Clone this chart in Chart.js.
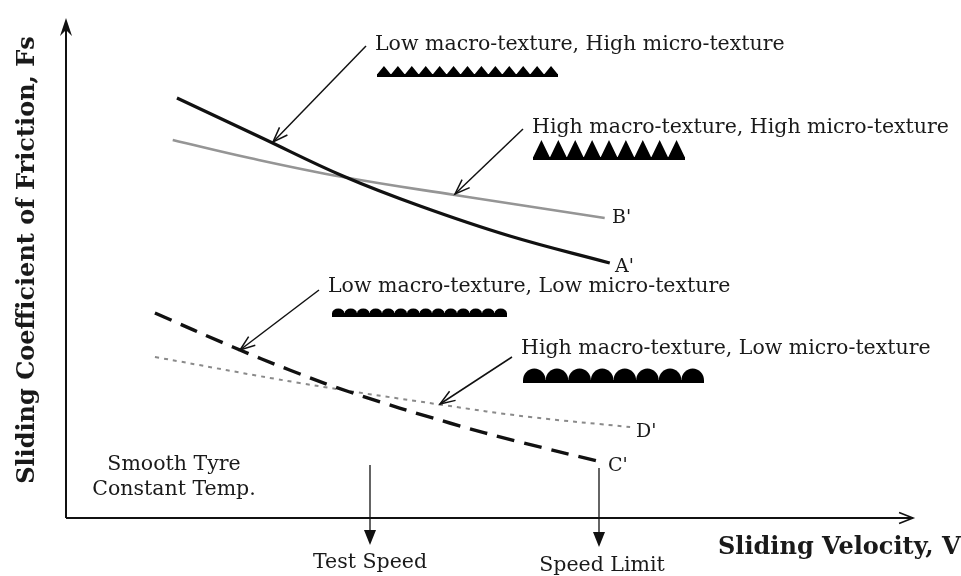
<!DOCTYPE html>
<html>
<head>
<meta charset="utf-8">
<script src="https://cdn.jsdelivr.net/npm/chart.js@4.4.1/dist/chart.umd.min.js"></script>
<style>
  html,body{margin:0;padding:0;background:#fff;}
  #wrap{width:961px;height:576px;}
</style>
</head>
<body>
<div id="wrap"><canvas id="c" width="961" height="576"></canvas></div>
<script>
// Sliding velocity (relative units 0-100) and sliding friction (relative units 0-100)
const aX = [13.1, 22.9, 32.7, 41.8, 52.4, 64.2];
const aY = [84.0, 76.2, 68.4, 62.4, 56.4, 51.0];
const bX = [12.6, 21.7, 32.7, 45.9, 63.6];
const bY = [75.6, 72.0, 68.2, 64.6, 60.0];
const cX = [10.5, 19.7, 26.4, 33.5, 45.3, 53.6, 62.7];
const cY = [41.0, 34.2, 29.6, 25.2, 19.0, 15.2, 11.4];
const dX = [10.5, 27.6, 44.5, 54.8, 66.6];
const dY = [32.2, 27.0, 22.6, 20.2, 18.2];
const curveLabels = ["A'", "B'", "C'", "D'"];
const textureLabels = [
  "Low macro-texture, High micro-texture",
  "High macro-texture, High micro-texture",
  "Low macro-texture, Low micro-texture",
  "High macro-texture, Low micro-texture"
];
const speedLabels = ["Test Speed", "Speed Limit"];
const noteLines = ["Smooth Tyre", "Constant Temp."];
const xTitle = "Sliding Velocity, V";
const yTitle = "Sliding Coefficient of Friction, Fs";

const pts = (xs, ys) => xs.map((x, i) => ({x, y: ys[i]}));
const SERIF = '"DejaVu Serif", "Liberation Serif", serif';

function arrowOpen(ctx, x1, y1, x2, y2, len, ang) {
  ctx.beginPath(); ctx.moveTo(x1, y1); ctx.lineTo(x2, y2); ctx.stroke();
  const a = Math.atan2(y2 - y1, x2 - x1);
  ctx.beginPath();
  ctx.moveTo(x2 - len * Math.cos(a - ang), y2 - len * Math.sin(a - ang));
  ctx.lineTo(x2, y2);
  ctx.lineTo(x2 - len * Math.cos(a + ang), y2 - len * Math.sin(a + ang));
  ctx.stroke();
}
function arrowFilled(ctx, x1, y1, x2, y2, len, half) {
  ctx.beginPath(); ctx.moveTo(x1, y1); ctx.lineTo(x2, y2 - len + 1); ctx.stroke();
  ctx.beginPath();
  ctx.moveTo(x2, y2); ctx.lineTo(x2 - half, y2 - len); ctx.lineTo(x2 + half, y2 - len);
  ctx.closePath(); ctx.fill();
}
function triTexture(ctx, x0, x1, yb, n, h, baseH) {
  ctx.fillRect(x0, yb - baseH, x1 - x0, baseH);
  const w = (x1 - x0) / n;
  ctx.beginPath();
  for (let i = 0; i < n; i++) {
    const sx = x0 + i * w;
    ctx.moveTo(sx, yb - baseH + 0.5);
    ctx.lineTo(sx + w / 2, yb - baseH - h);
    ctx.lineTo(sx + w, yb - baseH + 0.5);
  }
  ctx.closePath(); ctx.fill();
}
function bumpTexture(ctx, x0, x1, yb, n, h, baseH) {
  ctx.fillRect(x0, yb - baseH, x1 - x0, baseH);
  const w = (x1 - x0) / n;
  for (let i = 0; i < n; i++) {
    const cx = x0 + i * w + w / 2;
    ctx.beginPath();
    ctx.ellipse(cx, yb - baseH + 0.5, w / 2, h, 0, Math.PI, 2 * Math.PI);
    ctx.fill();
  }
}

const overlay = {
  id: 'overlay',
  afterDraw(chart) {
    const ctx = chart.ctx;
    const ca = chart.chartArea;
    const L = ca.left, B = ca.bottom, T = ca.top, R = ca.right;
    ctx.save();
    ctx.strokeStyle = '#111'; ctx.fillStyle = '#111';
    // axes
    ctx.lineWidth = 2;
    ctx.beginPath(); ctx.moveTo(L, B); ctx.lineTo(R - 2, B); ctx.stroke();
    ctx.beginPath(); ctx.moveTo(L, B); ctx.lineTo(L, T + 4); ctx.stroke();
    ctx.lineWidth = 1.6;
    arrowOpen(ctx, R - 20, B, R, B, 15, 0.38);
    ctx.beginPath(); ctx.moveTo(L, T); ctx.lineTo(L - 6, T + 18); ctx.lineTo(L, T + 12); ctx.lineTo(L + 6, T + 18); ctx.closePath(); ctx.fill();

    // pointer arrows
    ctx.lineWidth = 1.5;
    arrowOpen(ctx, 366, 46, 273, 142, 16, 0.35);
    arrowOpen(ctx, 523, 129, 455, 194, 16, 0.35);
    arrowOpen(ctx, 319, 290, 240, 350, 16, 0.35);
    arrowOpen(ctx, 512, 357, 440, 404, 16, 0.35);

    // speed arrows
    ctx.lineWidth = 1.3;
    arrowFilled(ctx, 370, 465, 370, 545, 15, 6);
    arrowFilled(ctx, 599, 468, 599, 547, 15, 6);

    // texture glyphs
    ctx.fillStyle = '#000';
    triTexture(ctx, 377, 558, 77, 13, 8, 3);
    triTexture(ctx, 533, 685, 160, 9, 17, 3);
    bumpTexture(ctx, 332, 507, 317, 14, 5, 4);
    bumpTexture(ctx, 523, 704, 383, 8, 12, 3);

    // texts
    ctx.fillStyle = '#1a1a1a';
    ctx.textBaseline = 'middle';
    ctx.textAlign = 'left';
    ctx.font = '20.5px ' + SERIF;
    ctx.fillText(textureLabels[0], 375, 45);
    ctx.fillText(textureLabels[1], 532, 128);
    ctx.fillText(textureLabels[2], 328, 287);
    ctx.fillText(textureLabels[3], 521, 349);
    ctx.font = '19px ' + SERIF;
    ctx.fillText(curveLabels[0], 615, 267);
    ctx.fillText(curveLabels[1], 612, 218);
    ctx.fillText(curveLabels[2], 608, 466);
    ctx.fillText(curveLabels[3], 636, 432);
    ctx.textAlign = 'center';
    ctx.font = '20.5px ' + SERIF;
    ctx.fillText(noteLines[0], 174, 465);
    ctx.fillText(noteLines[1], 174, 490);
    ctx.fillText(speedLabels[0], 370, 563);
    ctx.fillText(speedLabels[1], 602, 566);
    ctx.font = 'bold 24px ' + SERIF;
    ctx.textAlign = 'left';
    ctx.fillText(xTitle, 718, 548);
    ctx.save();
    ctx.translate(28, 260);
    ctx.rotate(-Math.PI / 2);
    ctx.textAlign = 'center';
    ctx.fillText(yTitle, 0, 0);
    ctx.restore();
    ctx.restore();
  }
};

new Chart(document.getElementById('c'), {
  type: 'scatter',
  data: {
    datasets: [
      {label: 'A', data: pts(aX, aY), showLine: true, borderColor: '#111', borderWidth: 3.2, pointRadius: 0, tension: 0.4},
      {label: 'B', data: pts(bX, bY), showLine: true, borderColor: '#959595', borderWidth: 2.6, pointRadius: 0, tension: 0.4},
      {label: 'C', data: pts(cX, cY), showLine: true, borderColor: '#111', borderWidth: 3.4, borderDash: [18, 10], pointRadius: 0, tension: 0.4},
      {label: 'D', data: pts(dX, dY), showLine: true, borderColor: '#8a8a8a', borderWidth: 2, borderDash: [4, 5], pointRadius: 0, tension: 0.4}
    ]
  },
  options: {
    responsive: false,
    animation: false,
    layout: {padding: {left: 66, right: 48, top: 18, bottom: 58}},
    plugins: {legend: {display: false}, tooltip: {enabled: false}},
    scales: {
      x: {type: 'linear', min: 0, max: 100, display: false},
      y: {type: 'linear', min: 0, max: 100, display: false}
    }
  },
  plugins: [overlay]
});
</script>
</body>
</html>
